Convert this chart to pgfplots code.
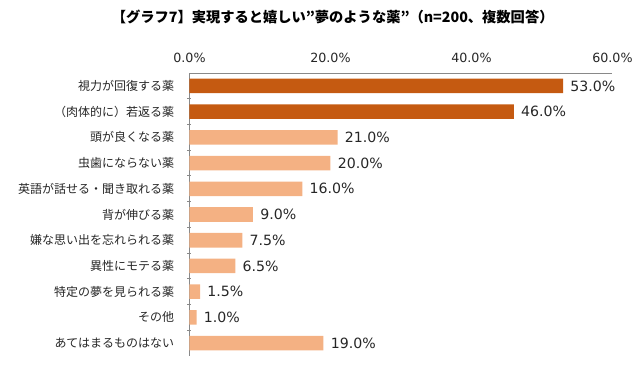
\documentclass[border=0pt]{standalone}
\usepackage{fontspec}
\setmainfont{DejaVu Sans}
\newfontfamily\cjk{Noto Sans CJK JP}
\usepackage{pgfplots}
\pgfplotsset{compat=1.18}
\definecolor{dark}{HTML}{C55A11}
\definecolor{light}{HTML}{F4B183}
\definecolor{axgray}{HTML}{898989}
\begin{document}
\begin{tikzpicture}
\path[use as bounding box] (0,0) rectangle (482.25pt,276.75pt);
\node[font=\cjk\bfseries\fontsize{10.7}{13}\selectfont] at (249.5pt,264pt) {【グラフ7】実現すると嬉しい”夢のような薬”（n=200、複数回答）};
\begin{axis}[
  at={(142.1pt,9.75pt)}, anchor=south west, scale only axis,
  width=317.25pt, height=212.25pt,
  xbar, bar shift=0pt, bar width=0.565,
  xmin=0, xmax=60, ymin=-0.5, ymax=10.5, y dir=reverse,
  axis x line=top, axis y line=left,
  axis line style={-, draw=axgray, line width=0.75pt},
  clip=false,
  /pgf/number format/assume math mode=true,
  xtick={0,20,40,60},
  xticklabel={\pgfmathprintnumber[fixed,fixed zerofill,precision=1]{\tick}\%},
  xticklabel style={font=\fontsize{9.5}{11}\selectfont, yshift=4pt, text=black!85},
  major tick length=0pt,
  ytick={0,...,10},
  yticklabels={視力が回復する薬,（肉体的に）若返る薬,頭が良くなる薬,虫歯にならない薬,英語が話せる・聞き取れる薬,背が伸びる薬,嫌な思い出を忘れられる薬,異性にモテる薬,特定の夢を見られる薬,その他,あてはまるものはない},
  yticklabel style={font=\cjk\fontsize{9}{11}\selectfont, xshift=-8pt, text=black!85},
  minor ytick={0.5,1.5,...,9.5},
  minor tick length=3pt,
  tick style={draw=axgray, line width=0.75pt},
  point meta=x,
  nodes near coords={\pgfmathprintnumber[fixed,fixed zerofill,precision=1]{\pgfplotspointmeta}\%},
  nodes near coords style={font=\fontsize{10.6}{12}\selectfont, anchor=west, xshift=2pt, text=black!85},
]
\addplot[fill=dark, draw=none] coordinates {(53,0) (46,1)};
\addplot[fill=light, draw=none] coordinates {(21,2) (20,3) (16,4) (9,5) (7.5,6) (6.5,7) (1.5,8) (1,9) (19,10)};
\end{axis}
\end{tikzpicture}
\end{document}
